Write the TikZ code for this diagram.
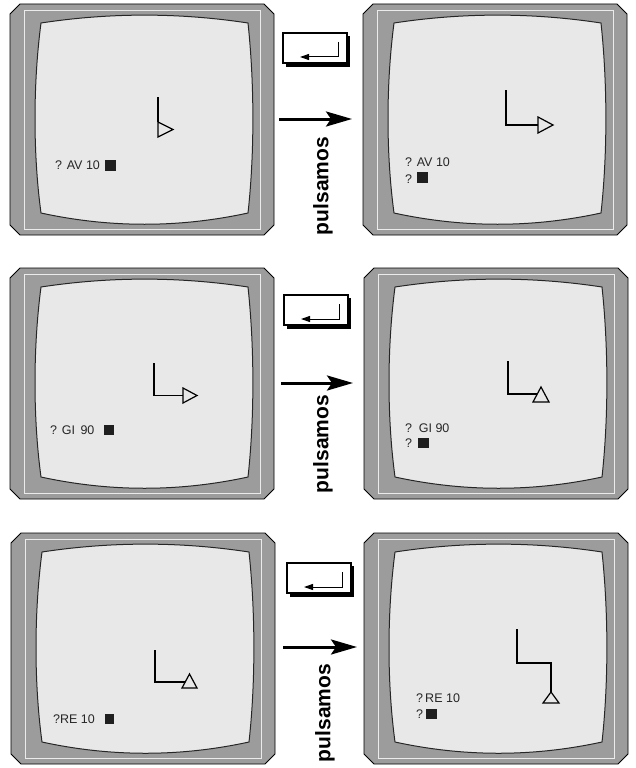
\documentclass[tikz,border=0pt]{standalone}
\usepackage{fontspec}
\setmainfont{Liberation Sans}
\usetikzlibrary{arrows.meta}
\definecolor{bezel}{HTML}{9C9C9C}
\definecolor{screen}{HTML}{E8E8E8}
\definecolor{ink}{HTML}{262626}
\tikzset{
  tv/.pic={
    \fill[bezel,draw=black,line width=0.9pt] (10,0) -- (254,0) -- (264,10) -- (264,221) -- (254,231) -- (10,231) -- (0,221) -- (0,10) -- cycle;
    \draw[white!92!black,line width=0.9pt] (14,6) rectangle (250,225);
    \draw[fill=screen,draw=black!85,line width=1pt]
      (31,19) .. controls (100,8.5) and (169,8.5) .. (238,19)
      .. controls (244.5,80) and (244.5,150) .. (238,209)
      .. controls (169,224) and (100,224) .. (31,209)
      .. controls (23,150) and (23,80) .. cycle;
  },
  enterkey/.pic={
    \fill[black] (3,3) rectangle (67,34);
    \draw[fill=white,line width=1.1pt] (0,0) rectangle (64,30);
    \draw[line width=1pt,-{Triangle[length=9pt,width=6pt]}] (55,9) -- (55,24) -- (17,24);
  },
  turtle/.style={line width=1.2pt,draw=black,line join=miter},
  tri/.style={line width=1.2pt,draw=black,fill=screen,line join=miter},
  screentext/.style={anchor=base west,inner sep=0pt,text=ink,font=\fontsize{12.5}{14}\selectfont},
  bigarrow/.style={line width=3pt,-{Stealth[length=26pt,width=15pt,inset=5pt]}},
  presslabel/.style={rotate=90,inner sep=0pt,font=\fontsize{21}{24}\selectfont\bfseries},
  cursor/.style={fill=black!88}
}
\begin{document}
\begin{tikzpicture}[x=1pt,y=-1pt]
\useasboundingbox (0,0) rectangle (636,768);
\fill[white] (0,0) rectangle (636,768);
% televisions
\pic at (10,4) {tv};
\pic at (363,4) {tv};
\pic at (10,268) {tv};
\pic at (364,268) {tv};
\pic at (11,533) {tv};
\pic at (364,533) {tv};
% enter keys
\pic at (283,33) {enterkey};
\pic at (284,295) {enterkey};
\pic at (287,563) {enterkey};
% arrows
\coordinate (a1s) at (279,119); \coordinate (a1e) at (352,119);
\coordinate (a2s) at (281,383); \coordinate (a2e) at (353,383);
\coordinate (a3s) at (283,647); \coordinate (a3e) at (357,647);
\draw[bigarrow] (a1s) -- (a1e);
\draw[bigarrow] (a2s) -- (a2e);
\draw[bigarrow] (a3s) -- (a3e);
\node[presslabel] (p1) at (323,186) {pulsamos};
\node[presslabel] (p2) at (323,444) {pulsamos};
\node[presslabel] (p3) at (325,713) {pulsamos};
% row 1 screens
\draw[turtle] (158,97) -- (158,122);
\draw[tri] (158,122) -- (173,129.5) -- (158,137) -- cycle;
\node[screentext] (t1) at (55,169.5) {? AV 10};
\fill[cursor] (105,160) rectangle (116,170.5);
\draw[turtle] (506,90) -- (506,125) -- (538,125);
\draw[tri] (538,117) -- (553,125) -- (538,133) -- cycle;
\node[screentext] (t2) at (405,166.5) {? AV 10};
\node[screentext] (t3) at (405,183) {?};
\fill[cursor] (417,172) rectangle (428,183);
% row 2 screens
\draw[turtle] (154,363) -- (154,395.5) -- (183,395.5);
\draw[tri] (183,388) -- (197,395.5) -- (183,403) -- cycle;
\node[screentext] (t4) at (50,434.5) {? GI\, 90};
\fill[cursor] (104,425) rectangle (114,435);
\draw[turtle] (508,361) -- (508,394) -- (537,394);
\draw[tri] (533,402) -- (541,387) -- (549,402) -- cycle;
\node[screentext] (t5) at (405,432.5) {?\, GI 90};
\node[screentext] (t6) at (405,447) {?};
\fill[cursor] (418,438) rectangle (429,448);
% row 3 screens
\draw[turtle] (155,650) -- (155,682) -- (185,682);
\draw[tri] (182,688) -- (189.5,674) -- (197,688) -- cycle;
\node[screentext] (t7) at (53,723.5) {?RE 10};
\fill[cursor] (105,714) rectangle (114,723.5);
\draw[turtle] (517,629) -- (517,663) -- (551,663) -- (551,692);
\draw[tri] (543,703) -- (551,692) -- (559,703) -- cycle;
\node[screentext] (t8) at (416,702.5) {?\,RE 10};
\node[screentext] (t9) at (416,718.5) {?};
\fill[cursor] (426,709) rectangle (437,719);
\end{tikzpicture}
\end{document}
